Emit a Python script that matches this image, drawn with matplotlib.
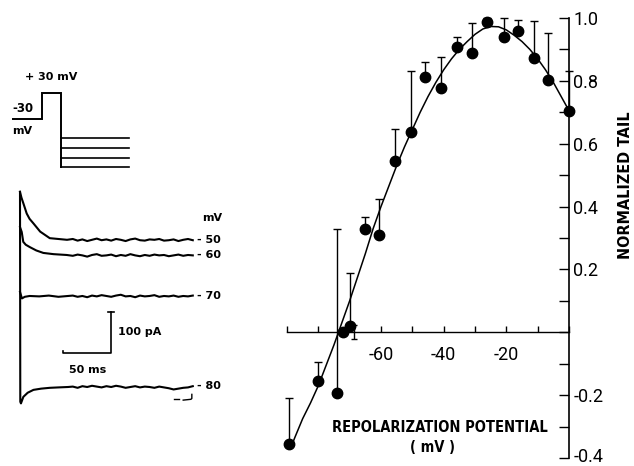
import numpy as np
import matplotlib.pyplot as plt
import matplotlib.transforms as mtransforms

W, H = 634, 466

# ---- right panel: normalized tail current vs repolarization potential ----
v_mV = [-89.5, -80, -74, -72.2, -70, -65, -60.5, -55.4, -50.5, -45.9, -40.7,
        -35.7, -31.1, -26.1, -20.8, -16.3, -11.3, -6.8, 0]
tail = [-0.357, -0.156, -0.194, 0.0, 0.02, 0.33, 0.31, 0.544, 0.636, 0.811, 0.776,
        0.909, 0.888, 0.988, 0.940, 0.960, 0.874, 0.803, 0.705]
tail_top = [-0.21, -0.095, 0.33, 0.0, 0.19, 0.368, 0.424, 0.647, 0.832, 0.86, 0.877,
            0.938, 0.985, 1.0, 0.999, 0.994, 0.991, 0.951, 0.831]
small_bar_v, small_bar_y, small_bar_err = -68.5, 0.0, 0.022

fit_v = [-88.5, -87.5, -85, -82.5, -80, -77.5, -75, -72.5, -70, -67.5, -65, -62.5,
         -60, -57.5, -55, -52.5, -50, -47.5, -45, -42.5, -40, -37.5, -35, -32.5,
         -30, -27.5, -25, -22.5, -20, -17.5, -15, -12.5, -10, -7.5, -5, -2.5, 0]
fit_y = [-0.36, -0.335, -0.275, -0.225, -0.17, -0.105, -0.04, 0.03, 0.10, 0.175, 0.25, 0.33,
         0.40, 0.465, 0.53, 0.59, 0.645, 0.70, 0.75, 0.795, 0.835, 0.87, 0.90, 0.925,
         0.948, 0.965, 0.973, 0.972, 0.962, 0.945, 0.925, 0.90, 0.87, 0.835, 0.795, 0.75, 0.705]

x_ticks = [-90, -80, -70, -60, -50, -40, -30, -20, -10, 0]
x_labels = ['', '', '', '-60', '', '-40', '', '-20', '', '']
y_ticks = [-0.4, -0.3, -0.2, -0.1, 0, 0.1, 0.2, 0.3, 0.4, 0.5, 0.6, 0.7, 0.8, 0.9, 1.0]
y_labels = ['-0.4', '', '-0.2', '', '', '', '0.2', '', '0.4', '', '0.6', '', '0.8', '', '1.0']

# ---- left panel: current traces (ms, pA) ----
t_flat = np.arange(55, 181, 5)
t50 = [0, 1.5, 3.5, 7, 10, 14, 21, 31, 40, 49]
i50 = [476, 462, 448, 423, 410, 399, 379, 363, 361, 359]
i50_flat = [361, 357, 360, 356, 359, 362, 358, 360, 357, 361, 359, 356, 360,
            362, 358, 357, 360, 359, 361, 357, 358, 360, 356, 359, 361, 358]
t60 = [0, 1.8, 3.4, 6, 10.4, 17, 24.3, 35, 48.6]
i60 = [390, 378, 354, 347, 341, 333, 327, 324, 322]
i60_flat = [320, 323, 321, 318, 322, 324, 320, 321, 323, 319, 322, 320, 324,
            321, 319, 322, 320, 323, 321, 322, 319, 321, 323, 320, 322, 321]
t70 = [0, 2, 5, 10, 20, 30, 40, 50]
i70 = [232, 216, 220, 222, 221, 223, 220, 222]
i70_flat = [223, 220, 222, 219, 223, 221, 224, 222, 220, 223, 225, 221, 222,
            219, 223, 221, 222, 224, 220, 222, 221, 223, 220, 222, 221, 223]
t80 = [0, 0.3, 1, 3.5, 8, 14, 22, 31, 40, 50]
i80 = [476, -36, -40, -24, -14, -7, -4, -2, -1, 0]
i80_flat = [1, -2, 2, 0, 3, 1, -1, 2, 0, 3, 1, -2, 0,
            2, -1, 1, 0, -2, 1, -1, -3, -6, -4, -2, -1, 2]
trace_labels = ['- 50', '- 60', '- 70', '- 80']

# ---- voltage protocol (schematic) ----
hold_mV, pulse_mV = -30, 30
tail_mV = [-50, -60, -70, -80]
t_hold, t_pulse, t_tail = 30, 19, 68


def fwd(v):
    v = np.asarray(v, dtype=float)
    return np.where(v > -30, -30 + (v + 30) * 0.45, v)


def inv(u):
    u = np.asarray(u, dtype=float)
    return np.where(u > -30, -30 + (u + 30) / 0.45, u)


fig = plt.figure(figsize=(W / 100, H / 100), dpi=100)


def rect(x0, y0, x1, y1):
    return [x0 / W, 1 - y1 / H, (x1 - x0) / W, (y1 - y0) / H]


def px_text(x, y, s, **kw):
    return fig.text(x / W, 1 - y / H, s, **kw)


lab = dict(family=['DejaVu Sans'], fontweight='bold', fontsize=8, color='black')

# protocol
axp = fig.add_axes(rect(12, 60, 162, 180))
axp.set_yscale('function', functions=(fwd, inv))
axp.set_xlim(0, 150)
axp.set_ylim(-92.9, 105.1)
axp.axis('off')
t1 = t_hold + t_pulse
axp.plot([0, t_hold, t_hold, t1, t1], [hold_mV, hold_mV, pulse_mV, pulse_mV, tail_mV[-1]],
         color='black', lw=1.4, solid_joinstyle='miter')
for v in tail_mV:
    axp.plot([t1, t1 + t_tail], [v, v], color='black', lw=1.2)
px_text(51, 77, '+ 30 mV', ha='center', va='center', **lab)
px_text(12, 108, '-30', ha='left', va='center', **dict(lab, fontsize=8.5))
px_text(12, 131, 'mV', ha='left', va='center', **lab)

# traces
axt = fig.add_axes(rect(10.4, 173.8, 212, 411.6))
axt.set_xlim(-10, 200)
axt.set_ylim(-60, 520)
axt.axis('off')
traces = [(t50, i50, i50_flat), (t60, i60, i60_flat), (t70, i70, i70_flat), (t80, i80, i80_flat)]
for (tt, ii, fl), name in zip(traces, trace_labels):
    axt.plot(list(tt) + list(t_flat), list(ii) + list(fl), color='black', lw=1.5)
    axt.text(184, fl[-1], name, ha='left', va='center', **lab)
axt.text(190, 412, 'mV', ha='left', va='center', **lab)
axt.plot([160, 166], [-30, -30], color='black', lw=1)
axt.plot([170, 178, 179, 179], [-32, -30, -28, -18], color='black', lw=1)
# scale bar
bar_t, bar_i = 94.8, 83
axt.plot([bar_t - 50, bar_t - 50, bar_t, bar_t], [bar_i + 6, bar_i, bar_i, bar_i + 100],
         color='black', lw=1.2)
axt.plot([bar_t - 3.5, bar_t + 3.5], [bar_i + 100, bar_i + 100], color='black', lw=1.2)
axt.text(bar_t + 7, bar_i + 52, '100 pA', ha='left', va='center', **lab)
axt.text(bar_t - 24, bar_i - 42, '50 ms', ha='center', va='center', **lab)

# normalized tail plot
ax = fig.add_axes([280.7 / W, 1.7 / H, 294.6 / W, 452.6 / H])
ax.set_xlim(-92, 2)
ax.set_ylim(-0.42, 1.02)
ax.plot(fit_v, fit_y, color='black', lw=1.1)
yerr = [np.zeros(len(tail)), np.array(tail_top) - np.array(tail)]
ax.errorbar(v_mV, tail, yerr=yerr, fmt='o', color='black', ms=7.5, elinewidth=1,
            capsize=3, capthick=1, clip_on=False)
ax.errorbar([small_bar_v], [small_bar_y], yerr=small_bar_err, fmt='none', ecolor='black',
            elinewidth=1, capsize=2, capthick=1)

for s in ['top', 'left']:
    ax.spines[s].set_visible(False)
ax.spines['right'].set_position(('data', 0))
ax.spines['bottom'].set_position(('data', 0))
ax.spines['right'].set_bounds(-0.4, 1.0)
ax.spines['bottom'].set_bounds(-90, 0)
ax.spines['right'].set_linewidth(1.2)
ax.spines['bottom'].set_linewidth(1.0)
ax.yaxis.tick_right()
ax.set_yticks(y_ticks)
ax.set_yticklabels(y_labels)
ax.set_xticks(x_ticks)
ax.set_xticklabels(x_labels)
ax.tick_params(axis='y', direction='in', length=7, width=1, pad=3)
ax.tick_params(axis='x', direction='in', length=4, width=1, pad=10)
for t in ax.get_xticklabels() + ax.get_yticklabels():
    t.set_family(['Roboto', 'DejaVu Sans'])
    t.set_fontsize(13)
    t.set_color('black')
# nudge the bottom label up a little so it stays inside the figure
lowest = ax.get_yticklabels()[0]
lowest.set_transform(lowest.get_transform() +
                     mtransforms.ScaledTranslation(0, 2 / 72, fig.dpi_scale_trans))

title_font = dict(family=['DejaVu Sans'], fontstretch='condensed', fontweight='bold',
                  color='black')
px_text(440, 427, 'REPOLARIZATION POTENTIAL', ha='center', va='center', fontsize=10.5, **title_font)
px_text(433, 447, '( mV )', ha='center', va='center', fontsize=10.5, **title_font)
px_text(626, 185, 'NORMALIZED TAIL', ha='center', va='center', rotation=90, fontsize=11.5, **title_font)

fig.savefig('out.png', dpi=100)
